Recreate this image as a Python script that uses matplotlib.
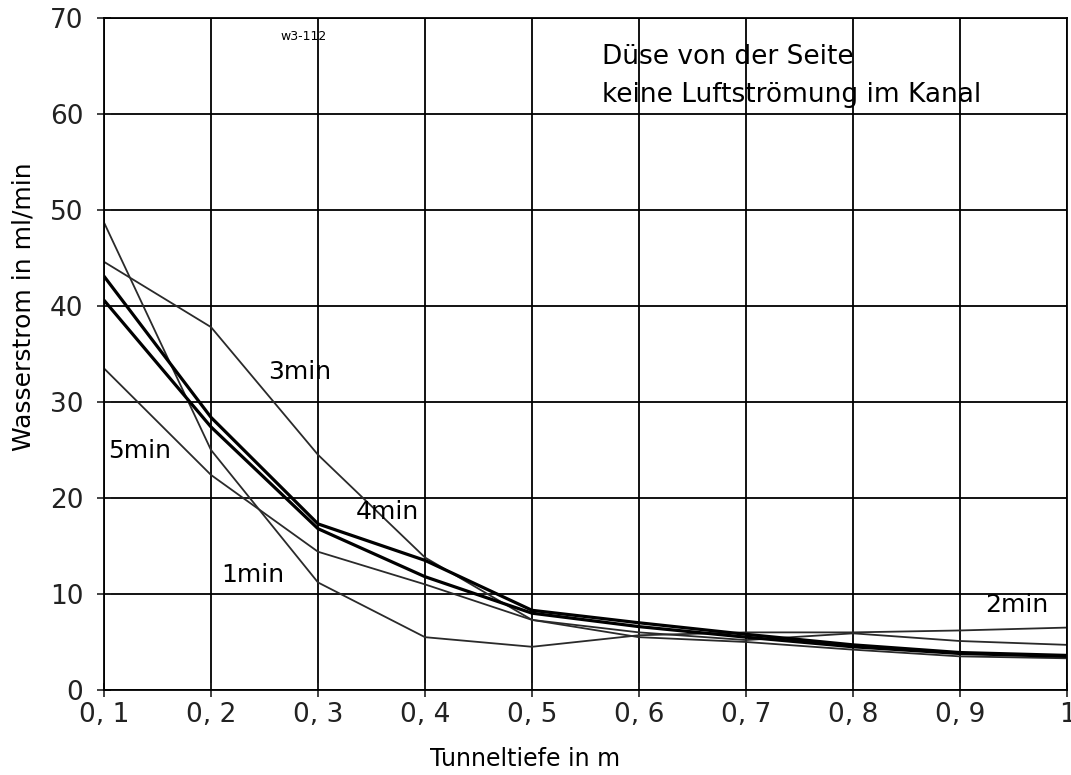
import numpy as np
import matplotlib.pyplot as plt

# tunnel depth in m
depth = [0.1, 0.2, 0.3, 0.4, 0.5, 0.6, 0.7, 0.8, 0.9, 1.0]

# water flow in ml/min for each spray duration
flow_1min = [48.7, 25.0, 11.2, 5.5, 4.5, 5.7, 6.0, 6.0, 6.2, 6.5]
flow_2min = [43.1, 28.4, 17.3, 13.5, 8.3, 7.0, 5.8, 4.7, 3.9, 3.6]
flow_3min = [44.6, 37.8, 24.5, 13.8, 7.3, 6.0, 5.2, 5.9, 5.1, 4.7]
flow_4min = [40.6, 27.4, 16.8, 11.8, 8.0, 6.6, 5.5, 4.5, 3.8, 3.5]
flow_5min = [33.5, 22.4, 14.4, 11.0, 7.3, 5.5, 5.0, 4.2, 3.5, 3.3]

x_ticks = [0.1, 0.2, 0.3, 0.4, 0.5, 0.6, 0.7, 0.8, 0.9, 1.0]
x_ticklabels = ["0, 1", "0, 2", "0, 3", "0, 4", "0, 5", "0, 6", "0, 7", "0, 8", "0, 9", "1"]
y_ticks = [0, 10, 20, 30, 40, 50, 60, 70]

fig = plt.figure(figsize=(10.71, 7.75), dpi=100)
ax = fig.add_axes([0.0971, 0.1097, 0.8992, 0.8671])

thin = dict(color="#2a2a2a", lw=1.3)
thick = dict(color="black", lw=2.3)
ax.plot(depth, flow_1min, **thin)
ax.plot(depth, flow_3min, **thin)
ax.plot(depth, flow_5min, **thin)
ax.plot(depth, flow_2min, **thick)
ax.plot(depth, flow_4min, **thick)

ax.set_xlim(0.1, 1.0)
ax.set_ylim(0, 70)
ax.set_xticks(x_ticks)
ax.set_xticklabels(x_ticklabels)
ax.set_yticks(y_ticks)
ax.grid(True, color="black", lw=1.3)
ax.tick_params(direction="inout", length=10, width=1.2, labelsize=19, colors="#222222")
ax.tick_params(axis="x", pad=4)
ax.tick_params(axis="y", pad=10)
for s in ax.spines.values():
    s.set_linewidth(1.3)

ax.set_xlabel("Tunneltiefe in m", fontsize=17)
ax.set_ylabel("Wasserstrom in ml/min", fontsize=18)
ax.xaxis.set_label_coords(0.437, -0.085)
ax.yaxis.set_label_coords(-0.071, 0.57)

# curve labels
lab = dict(fontsize=18, va="center", ha="left")
ax.text(0.21, 12.0, "1min", **lab)
ax.text(0.923, 8.9, "2min", **lab)
ax.text(0.253, 33.1, "3min", **lab)
ax.text(0.335, 18.5, "4min", **lab)
ax.text(0.104, 24.9, "5min", **lab)

ax.text(0.265, 68.1, "w3-112", fontsize=9, va="center", ha="left")
ax.text(0.565, 65.9, "Düse von der Seite", fontsize=19, va="center", ha="left")
ax.text(0.565, 62.0, "keine Luftströmung im Kanal", fontsize=19, va="center", ha="left")

fig.savefig("out.png", dpi=100)
